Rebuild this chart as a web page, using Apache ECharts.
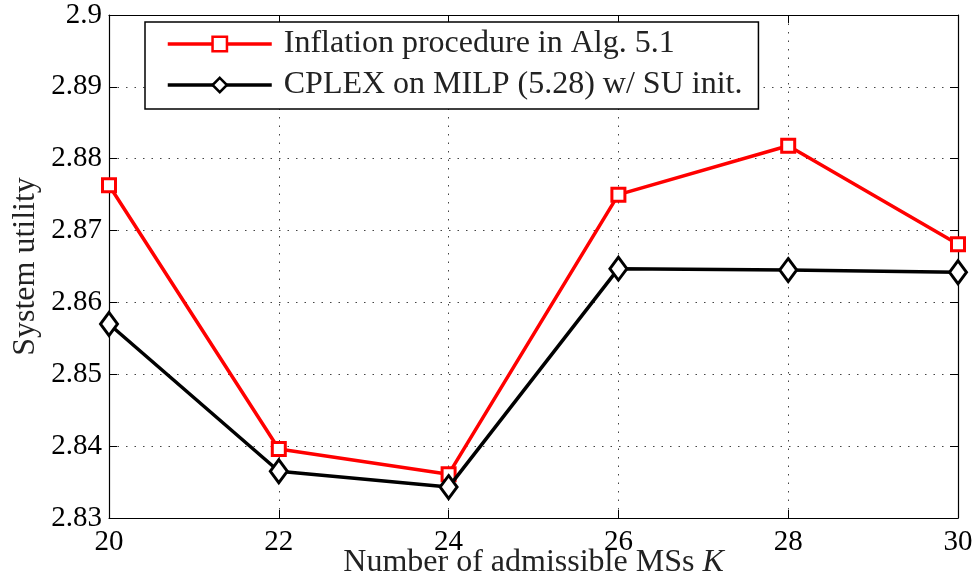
<!DOCTYPE html>
<html>
<head>
<meta charset="utf-8">
<script src="https://cdn.jsdelivr.net/npm/echarts@6/dist/echarts.min.js"></script>
<style>
  html, body { margin: 0; padding: 0; background: #fff; }
  #chart { width: 977px; height: 588px; }
</style>
</head>
<body>
<div id="chart"></div>
<script>
// Number of admissible MSs K
const kValues = [20, 22, 24, 26, 28, 30];

// System utility per method
const inflationUtility = [2.8763, 2.8396, 2.8361, 2.8750, 2.8818, 2.8681];
const cplexUtility     = [2.8570, 2.8365, 2.8343, 2.8647, 2.8645, 2.8642];

const seriesNames = ['Inflation procedure in Alg. 5.1', 'CPLEX on MILP (5.28) w/ SU init.'];

// Axis ticks
const xTicks = [20, 22, 24, 26, 28, 30];
const yTicks = [2.83, 2.84, 2.85, 2.86, 2.87, 2.88, 2.89, 2.9];

const serif = 'Liberation Serif, Times New Roman, serif';
const tickFont = { fontFamily: serif, fontSize: 29, color: '#000' };
const gridDots = { color: '#444', width: 1, type: [1.5, 7] };

const pairs = arr => kValues.map((k, i) => [k, arr[i]]);

const chart = echarts.init(document.getElementById('chart'), null, { renderer: 'canvas' });

chart.setOption({
  animation: false,
  backgroundColor: '#fff',
  grid: { left: 109, right: 19, top: 15, bottom: 70, containLabel: false, outerBoundsMode: 'none' },
  legend: {
    orient: 'vertical',
    left: 145,
    top: 22,
    padding: [6, 16, 8, 21],
    itemGap: 9,
    itemWidth: 104,
    itemHeight: 18,
    backgroundColor: '#fff',
    borderColor: '#000',
    borderWidth: 1.5,
    borderRadius: 0,
    lineStyle: { width: 3.5 },
    itemStyle: { borderWidth: 2.5 },
    textStyle: { fontFamily: serif, fontSize: 32, color: '#222', padding: [0, 0, 0, 7] },
    data: seriesNames
  },
  xAxis: [
    {
      type: 'value',
      min: xTicks[0],
      max: xTicks[xTicks.length - 1],
      interval: 2,
      name: 'Number of admissible MSs {k|K}',
      nameLocation: 'middle',
      nameGap: 29,
      nameMoveOverlap: false,
      nameTextStyle: {
        fontFamily: serif, fontSize: 32, color: '#222',
        rich: { k: { fontFamily: serif, fontSize: 32, fontStyle: 'italic', color: '#222' } }
      },
      axisLine: { show: true, onZero: false, lineStyle: { color: '#000', width: 1.2 } },
      axisTick: { show: true, inside: true, length: 8, lineStyle: { color: '#000', width: 1 } },
      axisLabel: Object.assign({ margin: 10, formatter: v => String(v) }, tickFont),
      splitLine: { show: true, lineStyle: gridDots }
    },
    {
      type: 'value',
      position: 'top',
      min: xTicks[0],
      max: xTicks[xTicks.length - 1],
      interval: 2,
      axisLine: { show: true, onZero: false, lineStyle: { color: '#000', width: 1.2 } },
      axisTick: { show: true, inside: true, length: 8, lineStyle: { color: '#000', width: 1 } },
      axisLabel: { show: false },
      splitLine: { show: false }
    }
  ],
  yAxis: [
    {
      type: 'value',
      min: yTicks[0],
      max: yTicks[yTicks.length - 1],
      interval: 0.01,
      name: 'System utility',
      nameLocation: 'middle',
      nameGap: 67,
      nameMoveOverlap: false,
      nameTextStyle: { fontFamily: serif, fontSize: 32, color: '#222' },
      axisLine: { show: true, onZero: false, lineStyle: { color: '#000', width: 1.2 } },
      axisTick: { show: true, inside: true, length: 8, lineStyle: { color: '#000', width: 1 } },
      axisLabel: Object.assign({ margin: 7, formatter: v => String(+v.toFixed(2)) }, tickFont),
      splitLine: { show: true, lineStyle: gridDots }
    },
    {
      type: 'value',
      position: 'right',
      min: yTicks[0],
      max: yTicks[yTicks.length - 1],
      interval: 0.01,
      axisLine: { show: true, onZero: false, lineStyle: { color: '#000', width: 1.2 } },
      axisTick: { show: true, inside: true, length: 8, lineStyle: { color: '#000', width: 1 } },
      axisLabel: { show: false },
      splitLine: { show: false }
    }
  ],
  series: [
    {
      name: seriesNames[0],
      type: 'line',
      data: pairs(inflationUtility),
      clip: false,
      symbol: 'rect',
      symbolSize: 13,
      lineStyle: { color: '#ff0000', width: 3.5 },
      itemStyle: { color: '#fff', borderColor: '#ff0000', borderWidth: 3 },
      z: 3
    },
    {
      name: seriesNames[1],
      type: 'line',
      data: pairs(cplexUtility),
      clip: false,
      symbol: 'diamond',
      symbolSize: [17, 23],
      lineStyle: { color: '#000', width: 3.5 },
      itemStyle: { color: '#fff', borderColor: '#000', borderWidth: 3 },
      z: 4
    }
  ]
});
</script>
</body>
</html>
